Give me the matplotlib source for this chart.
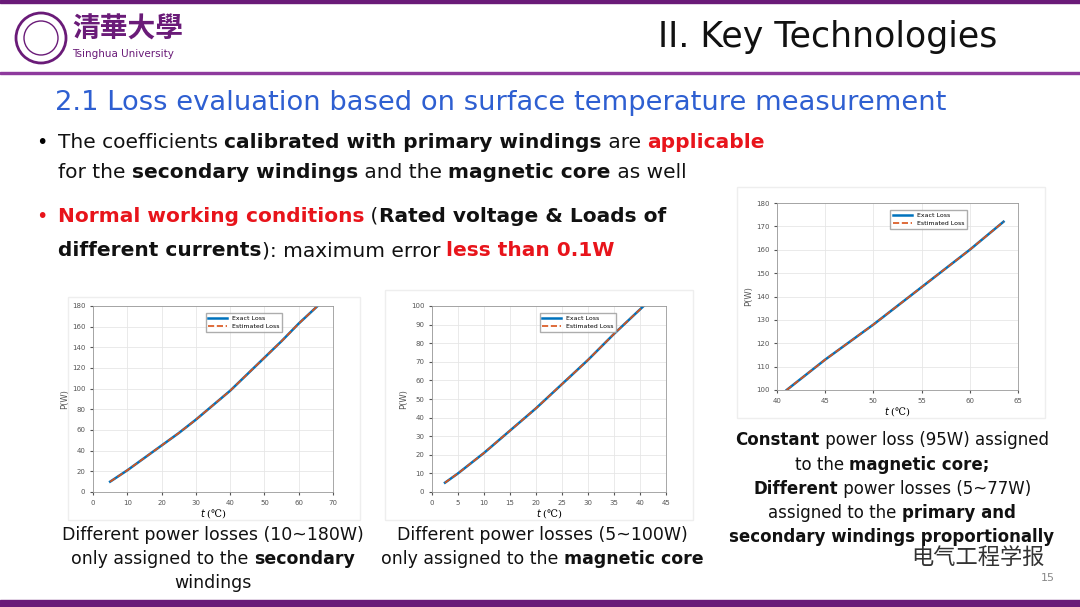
# Slide recreation: loss evaluation based on surface temperature measurement
import numpy as np
import matplotlib.pyplot as plt
from matplotlib.patches import Rectangle, Circle

W, H = 1080, 607  # Slide size in pixels

# Chart 1: secondary windings
t1 = [5, 10, 15, 20, 25, 30, 35, 40, 45, 50, 55, 60, 65.5]
p1 = [10, 21, 33, 45, 57, 70, 84, 98, 114, 130, 146, 163, 180]
# Chart 2: magnetic core
t2 = [2.5, 5, 10, 15, 20, 25, 30, 35, 40.7]
p2 = [5, 10, 21, 33, 45, 58, 71, 85, 100]
# Chart 3: core + primary/secondary windings
t3 = [41, 45, 50, 55, 60, 63.5]
p3 = [100, 113, 128, 144, 160, 172]

purple = '#6a1b78'
blue = '#0072bd'
orange = '#d95319'

fig = plt.figure(figsize=(W/100, H/100), dpi=100)
bg = fig.add_axes([0, 0, 1, 1])
bg.set_xlim(0, W)
bg.set_ylim(H, 0)
bg.axis('off')

# frame bars
bg.add_patch(Rectangle((0, 0), W, 3, color=purple))
bg.add_patch(Rectangle((0, 72), W, 2, color='#8e3a9d'))
bg.add_patch(Rectangle((0, 600), W, 7, color=purple))
# logo
bg.add_patch(Circle((41, 38), 25, fill=False, ec=purple, lw=2))
bg.add_patch(Circle((41, 38), 17, fill=False, ec=purple, lw=1))
bg.text(72, 30, '清華大學', fontsize=20, color=purple, family=['Noto Sans CJK SC', 'DejaVu Sans'],
        va='center', weight='bold')
bg.text(72, 54, 'Tsinghua University', fontsize=7.5, color=purple, va='center')
bg.text(997, 37, 'II. Key Technologies', fontsize=25, ha='right', va='center', color='#111111')
bg.text(55, 103, '2.1 Loss evaluation based on surface temperature measurement', fontsize=19.7,
        color='#2e5fd1', va='center')

# bullet points
def rich(x, y, parts, size=14.5):
    """Draw a line of text made of (text, bold, color) pieces."""
    for s, b, c in parts:
        txt = bg.text(x, y, s, fontsize=size, weight='bold' if b else 'normal', color=c, va='center')
        fig.canvas.draw()
        bb = txt.get_window_extent()
        x += bb.width

k, r = '#111111', '#e8141b'
bg.text(36, 142, '•', fontsize=14, va='center')
rich(58, 142, [('The coefficients ', 0, k), ('calibrated with primary windings', 1, k), (' are ', 0, k),
               ('applicable', 1, r)])
rich(58, 172, [('for the ', 0, k), ('secondary windings', 1, k), (' and the ', 0, k),
               ('magnetic core', 1, k), (' as well', 0, k)])
bg.text(36, 216, '•', fontsize=14, va='center', color=r)
rich(58, 216, [('Normal working conditions', 1, r), (' (', 0, k), ('Rated voltage & Loads of', 1, k)])
rich(58, 251, [('different currents', 1, k), ('): maximum error ', 0, k), ('less than 0.1W', 1, r)])

# white panels behind the charts
for x0, y0, x1, y1 in [(68, 297, 360, 520), (385, 290, 693, 520), (737, 187, 1045, 418)]:
    bg.add_patch(Rectangle((x0, y0), x1 - x0, y1 - y0, color='white', ec='#eeeeee'))

def chart(box, t, p, xlim, ylim, xstep, ystep):
    x0, y0, x1, y1 = box
    ax = fig.add_axes([x0/W, 1 - y1/H, (x1 - x0)/W, (y1 - y0)/H])
    ax.plot(t, p, color=blue, lw=1.8, label='Exact Loss')
    ax.plot(t, p, color=orange, lw=1.2, ls='--', label='Estimated Loss')
    ax.set_xlim(*xlim)
    ax.set_ylim(*ylim)
    ax.set_xticks(np.arange(xlim[0], xlim[1] + 0.1, xstep))
    ax.set_yticks(np.arange(ylim[0], ylim[1] + 0.1, ystep))
    ax.tick_params(labelsize=5, colors='#555555', length=2)
    ax.grid(color='#e6e6e6', lw=0.6)
    for s in ax.spines.values():
        s.set_color('#999999')
        s.set_linewidth(0.6)
    ax.set_ylabel('P(W)', fontsize=6, color='#555555', labelpad=2)
    ax.set_xlabel(r'$t$ (℃)', fontsize=7, family='serif', labelpad=1)
    ax.legend(fontsize=4.5, loc='upper right', bbox_to_anchor=(0.8, 0.98), fancybox=False,
              edgecolor='#999999', handlelength=3)
    return ax

chart((93, 306, 333, 492), t1, p1, (0, 70), (0, 180), 10, 20)
chart((432, 306, 666, 492), t2, p2, (0, 45), (0, 100), 5, 10)
chart((777, 203, 1018, 390), t3, p3, (40, 65), (100, 180), 5, 10)

# captions
def caption(cx, y, parts, size=12.5):
    tmp = [bg.text(0, 0, s, fontsize=size, weight='bold' if b else 'normal') for s, b in parts]
    fig.canvas.draw()
    wpx = sum(tt.get_window_extent().width for tt in tmp)
    for tt in tmp:
        tt.remove()
    rich(cx - wpx/2, y, [(s, b, k) for s, b in parts], size)

caption(213, 535, [('Different power losses (10~180W)', 0)])
caption(213, 559, [('only assigned to the ', 0), ('secondary', 1)])
caption(213, 583, [('windings', 0)])
caption(542, 535, [('Different power losses (5~100W)', 0)])
caption(542, 559, [('only assigned to the ', 0), ('magnetic core', 1)])
caption(892, 440, [('Constant', 1), (' power loss (95W) assigned', 0)], 12)
caption(892, 465, [('to the ', 0), ('magnetic core;', 1)], 12)
caption(892, 489, [('Different', 1), (' power losses (5~77W)', 0)], 12)
caption(892, 513, [('assigned to the ', 0), ('primary and', 1)], 12)
caption(892, 537, [('secondary windings proportionally', 1)], 12)
bg.text(1045, 557, '电气工程学报', fontsize=16, ha='right', va='center', color='#333333',
        family=['Noto Sans CJK SC', 'DejaVu Sans'])
bg.text(1055, 578, '15', fontsize=8, ha='right', va='center', color='#888888')

fig.savefig('out.png', dpi=100)
